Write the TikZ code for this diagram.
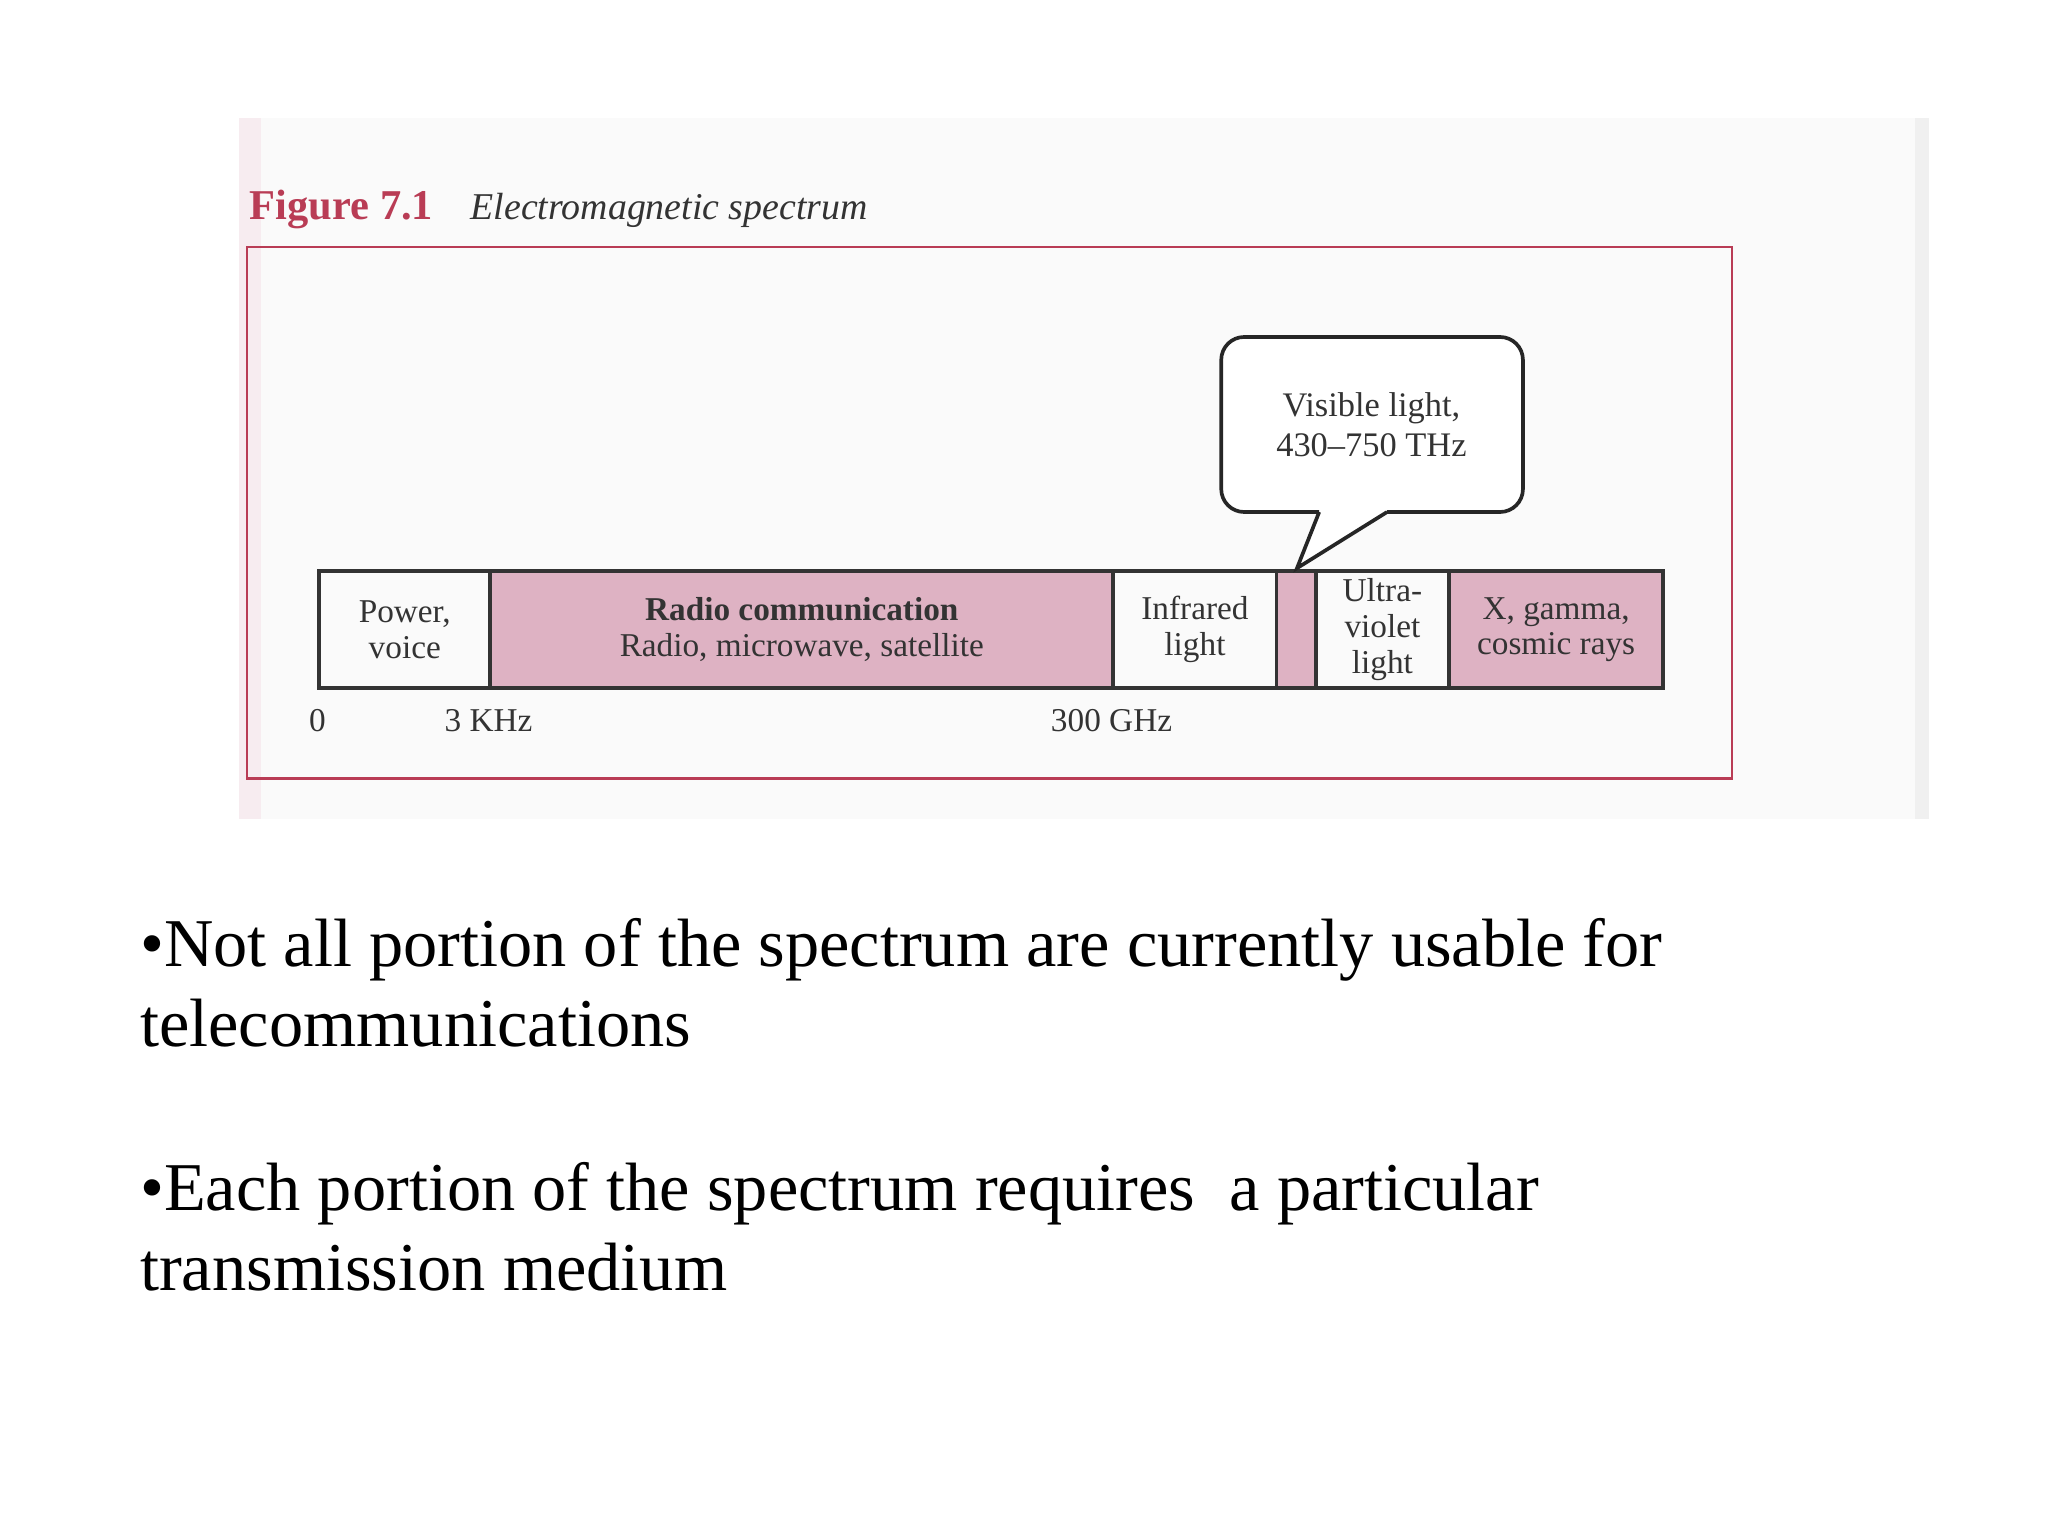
\documentclass[tikz,border=0pt]{standalone}
\usepackage{fontspec}
\setmainfont{Liberation Serif}
\begin{document}
\begin{tikzpicture}[x=0.02cm,y=-0.02cm,
  band/.style={draw=black!80,line width=1.6pt,minimum height=1.8cm,inner sep=0pt,anchor=west,align=center,font=\fontsize{14.5}{15.5}\selectfont,text=black!80},
  pinkf/.style={fill=pinkfill},
  tick/.style={font=\fontsize{14.5}{15}\selectfont,text=black!80},
  bul/.style={anchor=base west,inner sep=0pt,font=\fontsize{29.8}{36}\selectfont,align=left}]
\definecolor{pinkfill}{RGB}{222,178,195}
\definecolor{framered}{RGB}{185,60,85}
\useasboundingbox (0,0) rectangle (1568,1176);
\fill[black!2] (183,90) rectangle (1477,627);
\fill[pinkfill!25] (183,90) rectangle (200,627);
\fill[black!6] (1466,90) rectangle (1477,627);
\draw[framered,line width=1pt] (189,189) rectangle (1326,596);
\node[anchor=base west,text=framered,font=\fontsize{18.5}{20}\selectfont\bfseries,inner sep=0] (fig) at (191,168) {Figure 7.1};
\node[anchor=base west,text=black!80,font=\fontsize{16.5}{18}\selectfont\itshape,inner sep=0] (cap) at (360,168) {Electromagnetic spectrum};
% bands
\node[band,minimum width=2.62cm] (pw) at (243,482) {Power,\\voice};
\node[band,pinkf,minimum width=9.54cm] (rad) at (374,482) {\textbf{Radio communication}\\Radio, microwave, satellite};
\node[band,minimum width=2.5cm] (ir) at (851,482) {Infrared\\light};
\node[band,pinkf,minimum width=0.6cm] (vis) at (976,482) {};
\node[band,minimum width=2.04cm] (uv) at (1006,482) {Ultra-\\violet\\light};
\node[band,pinkf,minimum width=3.28cm] (xg) at (1108,482) {X, gamma,\\cosmic rays};
% callout
\draw[black!85,line width=1.6pt,rounded corners=10pt,fill=white]
  (1010,392) -- (935,392) -- (935,258) -- (1166,258) -- (1166,392) -- (1062,392);
\draw[black!85,line width=1.6pt,fill=white] (1010,392) -- (993,435) -- (1062,392);
\node[align=center,font=\fontsize{15}{17.5}\selectfont,text=black!80] (vl) at (1050,325) {Visible light,\\430--750 THz};
% ticks
\node[tick] (t0) at (243,552) {0};
\node[tick] (t1) at (374,552) {3 KHz};
\node[tick] (t2) at (851,552) {300 GHz};
% bullets
\node[bul] (b1) at (107,740) {•Not all portion of the spectrum are currently usable for};
\node[bul] (b1b) at (107,801) {telecommunications};
\node[bul] (b2) at (107,927) {•Each portion of the spectrum requires\ \ a particular};
\node[bul] (b2b) at (107,988) {transmission medium};
\end{tikzpicture}
\end{document}
